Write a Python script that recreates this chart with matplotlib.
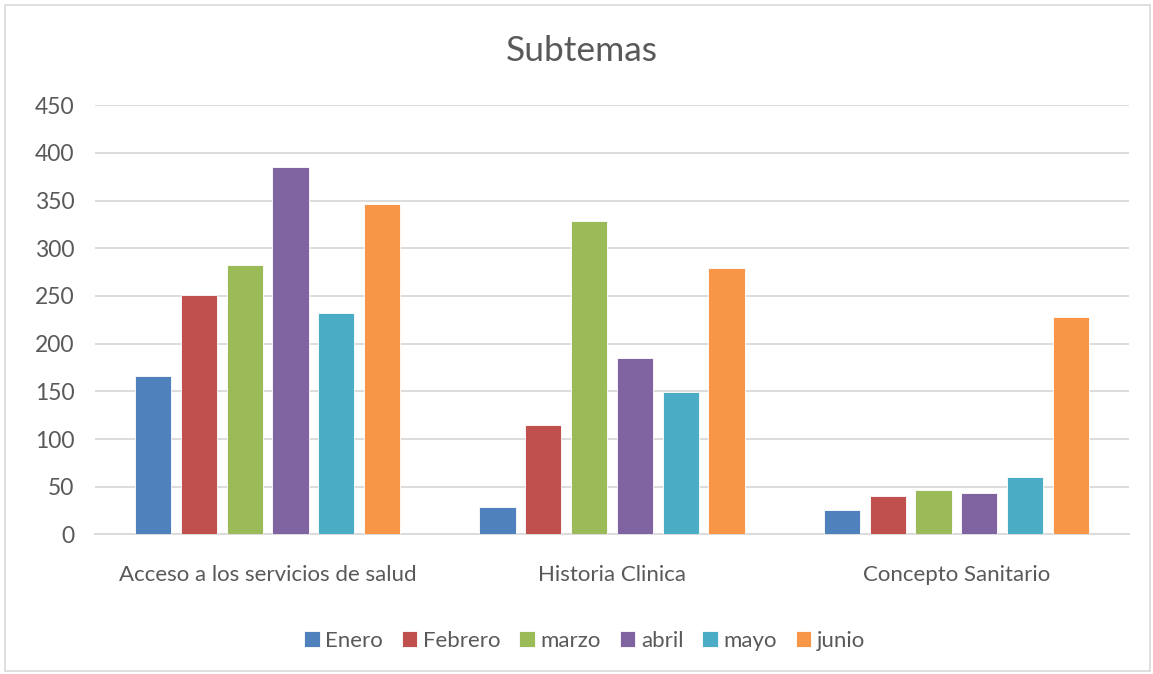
import matplotlib.pyplot as plt
import numpy as np
from matplotlib.patches import Rectangle

# ==========================================
# DATA
# ==========================================
categories = ["Acceso a los servicios de salud", "Historia Clinica", "Concepto Sanitario"]
months = ["Enero", "Febrero", "marzo", "abril", "mayo", "junio"]

enero = [166, 29, 26]
febrero = [251, 115, 40]
marzo = [282, 329, 47]
abril = [385, 185, 43]
mayo = [232, 149, 60]
junio = [346, 279, 228]

series = [enero, febrero, marzo, abril, mayo, junio]
colors = ["#4F81BD", "#C0504D", "#9BBB59", "#8064A2", "#4BACC6", "#F79646"]

TEXT_COLOR = "#595959"
GRID_COLOR = "#D9D9D9"

plt.rcParams['font.family'] = ['Lato', 'DejaVu Sans']

# ==========================================
# PLOT
# ==========================================
fig = plt.figure(figsize=(11.53, 6.74), dpi=100)
ax = fig.add_axes([0.0828, 0.207, 0.896, 0.637])

x = np.arange(len(categories))
pitch = 0.133
width = 0.105
for i, (vals, col, name) in enumerate(zip(series, colors, months)):
    offset = (i - (len(series) - 1) / 2) * pitch
    ax.bar(x + offset, vals, width=width, color=col, label=name,
           edgecolor="white", linewidth=0.6, zorder=3)

ax.set_xlim(-0.5, len(categories) - 0.5)
ax.set_ylim(0, 450)
ax.set_yticks(np.arange(0, 451, 50))
ax.yaxis.grid(True, color=GRID_COLOR, linewidth=1.3, zorder=0)
ax.set_axisbelow(True)

for side in ["top", "right", "left"]:
    ax.spines[side].set_visible(False)
ax.spines["bottom"].set_color(GRID_COLOR)
ax.spines["bottom"].set_linewidth(1.3)

ax.set_xticks(x)
ax.set_xticklabels(categories)
ax.tick_params(axis="both", length=0, colors=TEXT_COLOR)
ax.tick_params(axis="x", labelsize=16, pad=22)
ax.tick_params(axis="y", labelsize=16.5, pad=15)

fig.text(0.505, 0.925, "Subtemas", ha="center", va="center",
         fontsize=25.5, color=TEXT_COLOR)

leg = fig.legend(loc="center", bbox_to_anchor=(0.507, 0.049), ncol=6,
                 frameon=False, fontsize=16, handlelength=0.7,
                 handleheight=0.7, handletextpad=0.25, columnspacing=0.85)
for t in leg.get_texts():
    t.set_color(TEXT_COLOR)

# light frame around the chart
fig.patches.append(Rectangle((0.004, 0.005), 0.993, 0.988, transform=fig.transFigure,
                             fill=False, edgecolor="#D9D9D9", linewidth=1.2))

fig.savefig("out.png", dpi=100, facecolor="white")
